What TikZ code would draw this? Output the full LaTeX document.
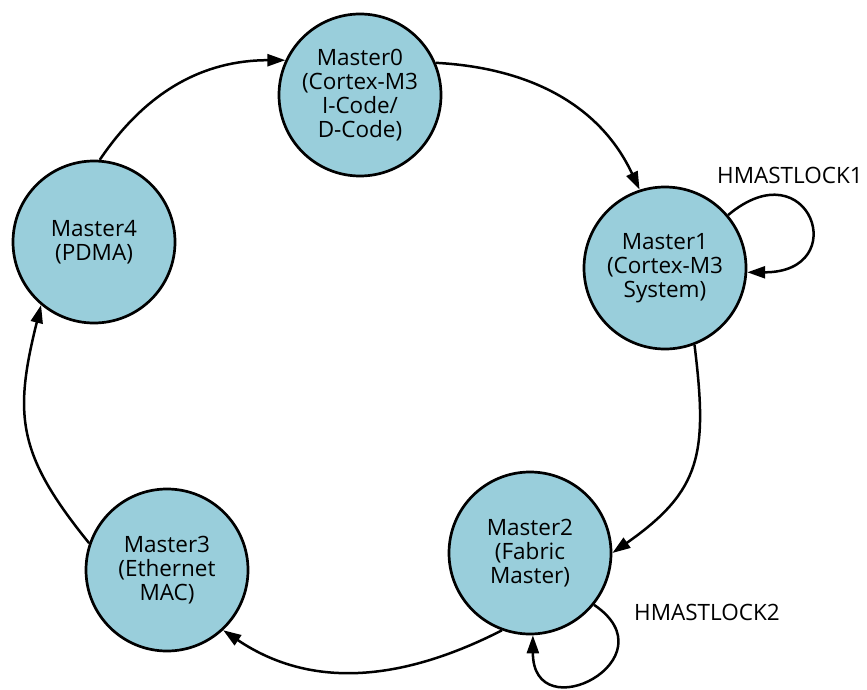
\documentclass[tikz,border=0pt]{standalone}
\usepackage{fontspec}
\setmainfont{Open Sans}
\usepackage{xcolor}
\usetikzlibrary{arrows.meta}
\definecolor{masterblue}{RGB}{153,206,219}

\begin{document}
\begin{tikzpicture}[x=1pt,y=1pt,
  master/.style={circle,draw=black,line width=2.7pt,fill=masterblue,
    minimum size=162pt,inner sep=0pt,align=center,
    font=\fontsize{22.5}{24}\selectfont},
  link/.style={line width=2.5pt,-{Triangle[length=18pt,width=12pt]}},
  lock/.style={font=\fontsize{22.5}{24}\selectfont}]
\useasboundingbox (0,0) rectangle (867,-690);
    \node [master] (m0) at (360,-95) {Master0\\(Cortex-M3\\I-Code/\\D-Code)};
    \node [master] (m1) at (665,-268) {Master1\\(Cortex-M3\\System)};
    \node [master] (m2) at (530,-553) {Master2\\(Fabric\\Master)};
    \node [master] (m3) at (167,-570) {Master3\\(Ethernet\\MAC)};
    \node [master] (m4) at (94,-242) {Master4\\(PDMA)};
    \draw [link] (m4.86) to [out=56,in=180] (m0.155);
    \draw [link] (m0.23) to [out=-3,in=115] (m1.108);
    \draw [link] (m1.-69) to [out=-83,in=35,looseness=1.25] (m2.0);
    \draw [link] (m2.-110) to [out=207,in=-34] (m3.-47);
    \draw [link] (m3.161) to [out=129,in=-104,looseness=1.2] (m4.230);
    \draw [link] (m1.40) to [out=40,in=0,looseness=4.5] (m1.-3);
    \draw [link] (m2.-39) to [out=-34,in=-90,looseness=3.6] (m2.-88);
    \node [lock] (l1) at (790,-175) {HMASTLOCK1};
    \node [lock] (l2) at (707,-612) {HMASTLOCK2};
\end{tikzpicture}
\end{document}
